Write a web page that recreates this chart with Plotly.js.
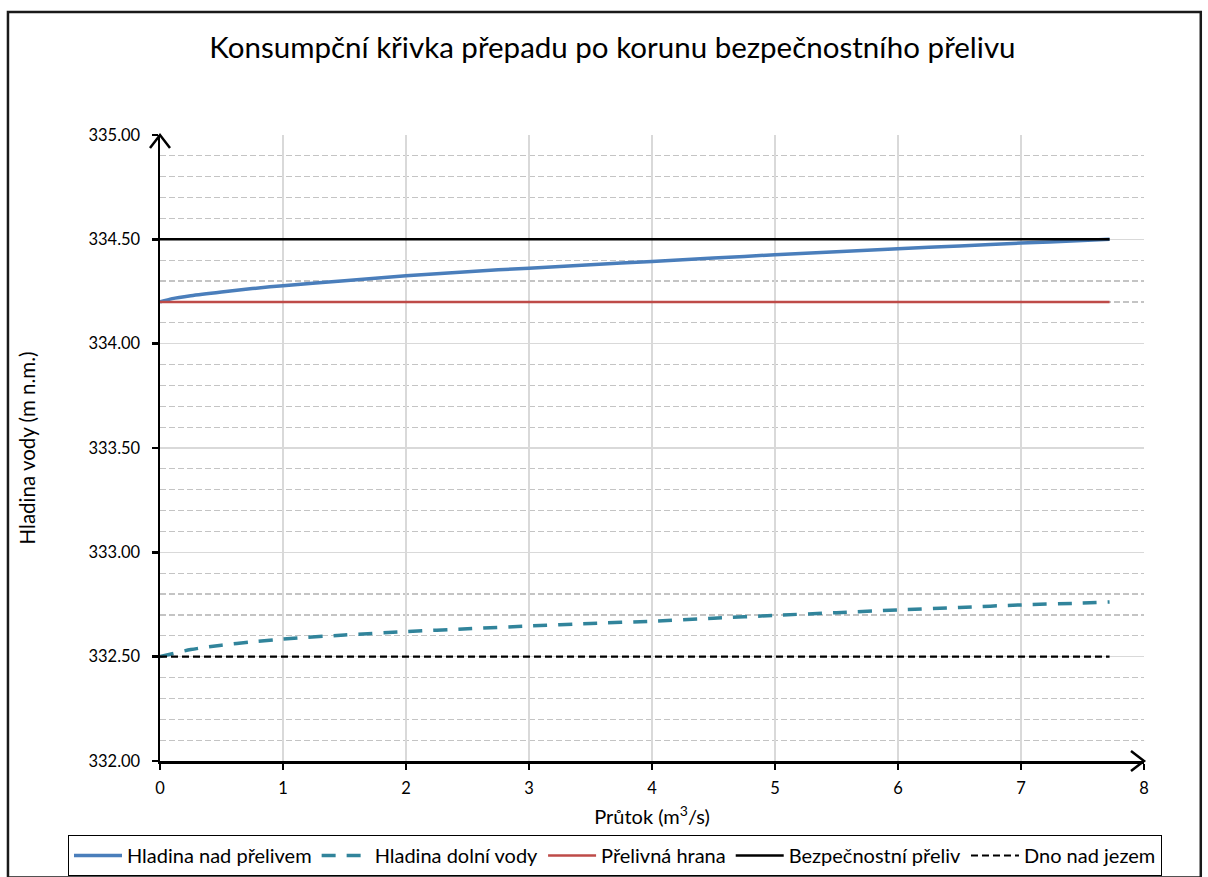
<!DOCTYPE html>
<html>
<head>
<meta charset="utf-8">
<script src="https://cdn.plot.ly/plotly-3.0.1.min.js"></script>
<style>
  html, body { margin: 0; padding: 0; background: #fff; }
  #chart { width: 1208px; height: 877px; }
</style>
</head>
<body>
<div id="chart"></div>
<script>
// Průtok Q (m3/s)
var flowQ = [0, 0.1, 0.25, 0.5, 0.75, 1, 1.5, 2, 2.5, 3, 3.5, 4, 4.5, 5, 5.5, 6, 6.5, 7, 7.5, 7.72];
// Hladina nad přelivem (m n.m.)
var upperLevel = [334.200, 334.216, 334.230, 334.248, 334.264, 334.278, 334.302, 334.325, 334.345, 334.362,
                  334.378, 334.394, 334.410, 334.426, 334.440, 334.455, 334.468, 334.482, 334.494, 334.500];
// Hladina dolní vody (m n.m.)
var lowerLevel = [332.500, 332.514, 332.534, 332.555, 332.571, 332.584, 332.604, 332.620, 332.634, 332.647,
                  332.659, 332.670, 332.684, 332.698, 332.711, 332.724, 332.736, 332.748, 332.757, 332.762];
// Constant reference levels
var refQ = [0, 7.72];
var crestLevel = [334.20, 334.20];      // Přelivná hrana
var spillwayLevel = [334.50, 334.50];   // Bezpečnostní přeliv
var bedLevel = [332.50, 332.50];        // Dno nad jezem

var seriesNames = ['Hladina nad přelivem', 'Hladina dolní vody', 'Přelivná hrana', 'Bezpečnostní přeliv', 'Dno nad jezem'];

var FONT = 'Lato, "Open Sans", sans-serif';

var traces = [
  { x: flowQ, y: upperLevel, name: seriesNames[0], mode: 'lines',
    line: { color: '#4A7EBB', width: 3.5, shape: 'spline', smoothing: 0.8 } },
  { x: flowQ, y: lowerLevel, name: seriesNames[1], mode: 'lines',
    line: { color: '#31849B', width: 3.5, dash: '14px,11px', shape: 'spline', smoothing: 0.8 } },
  { x: refQ, y: crestLevel, name: seriesNames[2], mode: 'lines',
    line: { color: '#BE4B48', width: 2.5 } },
  { x: refQ, y: spillwayLevel, name: seriesNames[3], mode: 'lines',
    line: { color: '#000000', width: 2.5 } },
  { x: refQ, y: bedLevel, name: seriesNames[4], mode: 'lines',
    line: { color: '#000000', width: 2.2, dash: '7px,4px' } }
];

var layout = {
  width: 1208, height: 877,
  margin: { l: 160, r: 64, t: 135, b: 116, autoexpand: false },
  paper_bgcolor: '#ffffff', plot_bgcolor: '#ffffff',
  font: { family: FONT, color: '#000000', size: 17 },
  title: { text: 'Konsumpční křivka přepadu po korunu bezpečnostního přelivu',
           font: { family: FONT, size: 29.5, color: '#000000' },
           x: 0.507, xref: 'container', xanchor: 'center',
           y: 0.946, yref: 'container', yanchor: 'middle' },
  xaxis: {
    range: [0, 8], dtick: 1, tick0: 0,
    showline: true, linecolor: '#000000', linewidth: 2.5,
    ticks: 'outside', ticklen: 6, tickwidth: 2.5, tickcolor: '#000000',
    ticklabelstandoff: 5,
    showgrid: true, gridcolor: '#d9d9d9', gridwidth: 1.3,
    zeroline: false,
    tickfont: { family: FONT, size: 16.5, color: '#000000' },
    title: { text: 'Průtok (m<sup>3</sup>/s)', font: { family: FONT, size: 20, color: '#000000' }, standoff: 13 }
  },
  yaxis: {
    range: [332, 335], dtick: 0.5, tick0: 332, tickformat: '.2f',
    showline: true, linecolor: '#000000', linewidth: 2.5,
    ticks: 'outside', ticklen: 6, tickwidth: 2.5, tickcolor: '#000000',
    ticklabelstandoff: 8,
    showgrid: true, gridcolor: '#d9d9d9', gridwidth: 1.3,
    zeroline: false,
    minor: { dtick: 0.1, showgrid: true, gridcolor: '#c4c4c4', griddash: '6px,3px', gridwidth: 1.2, ticks: '' },
    tickfont: { family: FONT, size: 16.5, color: '#000000' },
    title: { text: 'Hladina vody (m n.m.)', font: { family: FONT, size: 20.5, color: '#000000' }, standoff: 48 }
  },
  showlegend: true,
  legend: {
    orientation: 'h',
    xref: 'paper', yref: 'paper',
    x: -0.0935, xanchor: 'left', y: -0.1182, yanchor: 'top',
    bordercolor: '#000000', borderwidth: 1,
    font: { family: FONT, size: 20, color: '#000000' },
    itemwidth: 48, tracegroupgap: 0
  },
  shapes: [
    // y-axis arrow head
    { type: 'path', xref: 'paper', yref: 'paper', xsizemode: 'pixel', ysizemode: 'pixel',
      xanchor: 0, yanchor: 1, path: 'M-10,-13 L0,0 L10,-13',
      line: { color: '#000000', width: 2.5 } },
    // x-axis arrow head
    { type: 'path', xref: 'paper', yref: 'paper', xsizemode: 'pixel', ysizemode: 'pixel',
      xanchor: 1, yanchor: 0, path: 'M-13,10 L0,0 L-13,-10',
      line: { color: '#000000', width: 2.5 } },
    // outer chart border
    { type: 'rect', xref: 'paper', yref: 'paper',
      x0: -0.1545, x1: 1.0577, y0: -0.186, y1: 1.1965,
      line: { color: '#1a1a1a', width: 2.5 } }
  ]
};

Plotly.newPlot('chart', traces, layout, { displayModeBar: false, staticPlot: true });
</script>
</body>
</html>
